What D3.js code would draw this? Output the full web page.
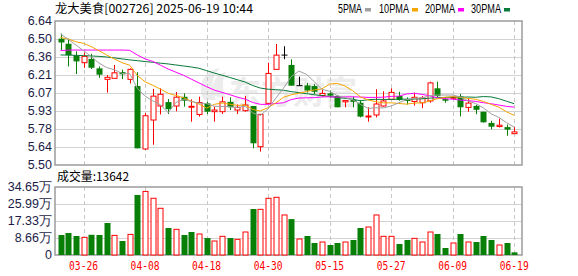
<!DOCTYPE html>
<html><head><meta charset="utf-8">
<script src="https://cdn.jsdelivr.net/npm/d3@7"></script>
<style>html,body{margin:0;padding:0;background:#fff;}svg{display:block;}</style>
</head><body>
<svg id="chart" width="578" height="276"></svg>
<script>
const dates = ["03-21","03-24","03-25","03-26","03-27","03-28","03-31","04-01","04-02","04-03",
"04-07","04-08","04-09","04-10","04-11","04-14","04-15","04-16","04-17","04-18",
"04-21","04-22","04-23","04-24","04-25","04-28","04-29","04-30","05-06","05-07",
"05-08","05-09","05-12","05-13","05-14","05-15","05-16","05-19","05-20","05-21",
"05-22","05-23","05-26","05-27","05-28","05-29","05-30","06-03","06-04","06-05",
"06-06","06-09","06-10","06-11","06-12","06-13","06-16","06-17","06-18","06-19"];
const open = [6.50,6.46,6.37,6.31,6.34,6.265,6.178,6.186,6.235,6.178,
6.125,5.627,5.856,5.967,5.998,5.967,6.04,5.96,5.90,5.988,
5.922,5.922,6.0,5.935,5.93,5.967,5.645,5.988,6.257,6.37,
6.292,6.128,6.13,6.125,6.05,6.067,6.046,6.0,6.014,5.993,
5.88,5.896,5.967,6.02,6.046,6.02,6.003,5.993,6.007,6.107,
6.022,6.03,6.043,5.956,5.968,5.922,5.833,5.805,5.80,5.748];
const high = [6.54,6.50,6.40,6.39,6.38,6.28,6.212,6.292,6.255,6.265,
6.235,5.912,6.102,6.107,6.022,6.078,6.067,6.02,6.041,6.0,
5.962,6.041,6.036,5.98,6.046,5.967,5.901,6.31,6.458,6.44,
6.337,6.199,6.15,6.14,6.094,6.09,6.054,6.012,6.04,6.014,
5.957,6.10,6.084,6.107,6.08,6.035,6.072,6.046,6.16,6.16,
6.038,6.045,6.062,6.028,5.975,5.922,5.85,5.868,5.82,5.8];
const low = [6.41,6.28,6.22,6.27,6.26,6.19,6.073,6.186,6.18,6.146,
5.632,5.619,5.66,5.90,5.904,5.925,5.962,5.843,5.883,5.903,
5.843,5.904,5.935,5.904,5.922,5.632,5.606,5.985,6.255,6.337,
6.128,6.128,6.073,6.062,6.04,6.033,5.957,5.957,5.957,5.877,
5.843,5.877,5.962,6.014,6.009,5.978,5.97,5.95,5.993,6.036,
5.993,6.02,5.885,5.922,5.902,5.836,5.783,5.797,5.731,5.745];
const close = [6.47,6.37,6.32,6.36,6.27,6.215,6.194,6.23,6.218,6.257,
5.632,5.89,6.045,6.06,5.942,6.037,6.009,5.965,5.995,5.922,
5.935,6.0,5.957,5.957,5.975,5.672,5.901,6.225,6.37,6.37,
6.128,6.128,6.09,6.08,6.067,6.049,5.957,6.01,6.0,5.883,
5.888,5.983,6.007,6.075,6.014,6.007,6.036,6.03,6.15,6.045,
6.009,6.036,5.957,5.99,5.937,5.838,5.803,5.815,5.78,5.762];
const volume = [10.19,11.2,9.68,9.0,10.3,10.2,16.3,10.0,7.13,10.5,
30.6,32.4,28.9,23.8,13.76,13.08,10.19,11.72,10.7,8.66,
7.13,9.51,8.66,7.98,11.72,23.44,23.27,28.9,29.4,20.4,
18.3,8.15,9.68,6.12,6.62,5.1,6.12,6.62,7.64,13.76,
14.27,20.4,9.51,9.51,5.6,7.64,8.49,6.62,11.72,10.7,
3.57,6.12,10.7,6.62,6.62,9.68,7.64,5.1,6.12,1.3642];
const volUp = [0,0,0,1,0,0,0,1,0,1, 0,1,1,1,0,1,0,0,1,0,
1,1,0,1,1,0,1,1,1,1, 0,1,0,0,1,0,0,1,0,0,
1,1,1,1,0,0,1,1,1,0, 0,1,0,1,0,0,0,1,0,0];
const ma5 = [6.537,6.495,6.45,6.405,6.358,6.307,6.272,6.254,6.225,6.223,
6.106,6.045,6.008,5.977,5.914,5.995,6.019,6.003,5.990,5.986,
5.965,5.963,5.962,5.954,5.965,5.912,5.892,5.946,6.029,6.108,
6.199,6.244,6.217,6.159,6.099,6.083,6.049,6.033,6.017,5.980,
5.948,5.953,5.952,5.967,5.993,6.017,6.028,6.032,6.047,6.054,
6.054,6.054,6.039,6.007,5.986,5.952,5.905,5.877,5.835,5.800];
const ma10 = [6.51,6.497,6.476,6.463,6.437,6.405,6.371,6.339,6.31,6.290,
6.207,6.159,6.131,6.101,6.068,6.051,6.032,6.006,5.983,5.950,
5.980,5.991,5.982,5.972,5.975,5.939,5.928,5.954,5.991,6.036,
6.056,6.068,6.082,6.094,6.103,6.141,6.146,6.125,6.088,6.039,
6.015,6.001,5.992,5.992,5.987,5.982,5.990,5.992,6.007,6.024,
6.036,6.041,6.036,6.027,6.020,6.003,5.980,5.958,5.921,5.893];
const ma20 = [6.405,6.41,6.41,6.41,6.41,6.41,6.41,6.41,6.41,6.408,
6.37,6.34,6.32,6.29,6.26,6.235,6.21,6.18,6.15,6.120,
6.093,6.075,6.057,6.037,6.022,5.995,5.980,5.980,5.987,5.993,
6.018,6.030,6.032,6.033,6.039,6.040,6.037,6.039,6.040,6.038,
6.035,6.035,6.037,6.043,6.045,6.062,6.068,6.059,6.048,6.031,
6.025,6.021,6.014,6.010,6.003,5.993,5.985,5.975,5.964,5.958];
const ma30 = [6.371,6.370,6.368,6.366,6.363,6.360,6.355,6.348,6.340,6.332,
6.326,6.319,6.313,6.306,6.300,6.292,6.284,6.276,6.266,6.247,
6.228,6.211,6.193,6.175,6.157,6.129,6.109,6.100,6.096,6.092,
6.081,6.073,6.065,6.056,6.049,6.043,6.035,6.028,6.021,6.008,
6.017,6.020,6.019,6.019,6.022,6.021,6.022,6.024,6.029,6.033,
6.035,6.037,6.037,6.038,6.036,6.042,6.039,6.025,6.005,5.985];
const priceTickLabels = ["5.50","5.64","5.78","5.93","6.07","6.21","6.36","6.50","6.64"];
const volTickLabels = ["0","8.66万","17.33万","25.99万","34.65万"];
const dateTicks = ["03-26","04-08","04-18","04-30","05-15","05-27","06-09","06-19"];
const maNames = ["5PMA","10PMA","20PMA","30PMA"];
const titleText = "龙大美食[002726] 2025-06-19 10:44";
const volTitle = "成交量:13642";

// ---------- layout ----------
const L = 55, R = 522, PT = 21, PB = 165, VT = 187, VB = 255;
const maColors = ["#a0a0a0","#f5a500","#ff00ff","#087a3a"];
const UP = "#ff0000", DOWN = "#088008";
const svg = d3.select("#chart");
svg.append("rect").attr("width",578).attr("height",276).attr("fill","#fff");

const x = d3.scalePoint().domain(dates).range([60.5, 514.2]);
const y = d3.scaleLinear().domain([5.50, 6.64]).range([PB, PT]);
const yv = d3.scaleLinear().domain([0, 34.65]).range([VB, VT]);
const priceTickVals = priceTickLabels.map((s,i)=>5.50 + i*(6.64-5.50)/(priceTickLabels.length-1));
const volTickVals = volTickLabels.map((s,i)=>i*34.65/(volTickLabels.length-1));

const numFont = "'Liberation Sans', Arial, sans-serif";
const cjkFont = "'Noto Sans CJK SC', sans-serif";

// watermark
const wm = svg.append("g").attr("opacity",1);
wm.append("text").attr("x",229).attr("y",104).attr("font-family",cjkFont).attr("font-weight","bold")
  .attr("font-size",32).attr("fill","#ececec").attr("textLength",128).attr("lengthAdjust","spacingAndGlyphs").text("东方财富");
wm.append("path").attr("d","M204,100 C196,86 204,70 220,68 C212,76 210,88 216,100 Z M214,96 C210,84 216,74 226,72 C222,80 222,90 226,98 Z")
  .attr("fill","#ececec");

// grid lines
const grid = svg.append("g");
grid.selectAll(".hg").data(priceTickVals.slice(1,-1)).join("line")
  .attr("x1",L).attr("x2",R).attr("y1",d=>Math.round(y(d))+0.5).attr("y2",d=>Math.round(y(d))+0.5)
  .attr("stroke","#d2d2d2").attr("stroke-width",1);
grid.selectAll(".vhg").data(volTickVals.slice(1,-1)).join("line")
  .attr("x1",L).attr("x2",R).attr("y1",d=>Math.round(yv(d))+0.5).attr("y2",d=>Math.round(yv(d))+0.5)
  .attr("stroke","#d2d2d2").attr("stroke-width",1);
[[PT,PB],[VT,VB]].forEach(([t,b])=>{
  grid.selectAll(null).data(dateTicks).join("line")
    .attr("x1",d=>Math.round(x(d))+0.5).attr("x2",d=>Math.round(x(d))+0.5)
    .attr("y1",t).attr("y2",b).attr("stroke","#c8c8c8").attr("stroke-width",1).attr("stroke-dasharray","4,3");
});

// panel frames
[[PT,PB],[VT,VB]].forEach(([t,b])=>{
  svg.append("rect").attr("x",L).attr("y",t).attr("width",R-L).attr("height",b-t)
    .attr("fill","none").attr("stroke","#9c9c9c").attr("stroke-width",1.5);
});

// candles
const bw = 5;
const data = dates.map((d,i)=>({d,o:open[i],h:high[i],l:low[i],c:close[i],v:volume[i],vu:volUp[i]}));
const cg = svg.append("g");
data.forEach(p=>{
  const cx = Math.round(x(p.d)) + 0.5;
  const col = p.c > p.o ? UP : (p.c < p.o ? DOWN : "#000");
  const top = y(Math.max(p.o,p.c)), bot = y(Math.min(p.o,p.c));
  if (p.c > p.o) {
    cg.append("line").attr("x1",cx).attr("x2",cx).attr("y1",y(p.h)).attr("y2",top).attr("stroke",col);
    cg.append("line").attr("x1",cx).attr("x2",cx).attr("y1",bot).attr("y2",y(p.l)).attr("stroke",col);
    cg.append("rect").attr("x",cx-bw/2).attr("y",top).attr("width",bw).attr("height",Math.max(1,bot-top))
      .attr("fill","#fff").attr("stroke",col).attr("stroke-width",1);
  } else if (p.c < p.o) {
    cg.append("line").attr("x1",cx).attr("x2",cx).attr("y1",y(p.h)).attr("y2",y(p.l)).attr("stroke",col);
    cg.append("rect").attr("x",cx-bw/2-0.5).attr("y",top).attr("width",bw+1).attr("height",Math.max(1,bot-top))
      .attr("fill",col);
  } else {
    cg.append("line").attr("x1",cx).attr("x2",cx).attr("y1",y(p.h)).attr("y2",y(p.l)).attr("stroke",col);
    cg.append("line").attr("x1",cx-3).attr("x2",cx+3).attr("y1",top).attr("y2",top).attr("stroke",col);
  }
});

// MA lines
const mas = [ma5, ma10, ma20, ma30];
const lineGen = d3.line().x((v,i)=>x(dates[i])).y(v=>y(v));
mas.slice().reverse().forEach((arr,k)=>{
  const idx = mas.length-1-k;
  svg.append("path").datum(arr).attr("d",lineGen).attr("fill","none")
    .attr("stroke",maColors[idx]).attr("stroke-width",1);
});

// volume bars
const vg = svg.append("g");
data.forEach(p=>{
  const cx = Math.round(x(p.d)) + 0.5;
  const t = yv(p.v);
  if (p.vu) {
    vg.append("rect").attr("x",cx-bw/2).attr("y",t).attr("width",bw).attr("height",VB-t)
      .attr("fill","#fff").attr("stroke",UP).attr("stroke-width",1);
  } else {
    vg.append("rect").attr("x",cx-bw/2-0.5).attr("y",t).attr("width",bw+1).attr("height",VB-t).attr("fill",DOWN);
  }
});

// axis labels
svg.selectAll(".pl").data(priceTickVals).join("text")
  .attr("x",52).attr("y",d=>y(d)).attr("dy","0.35em").attr("text-anchor","end")
  .attr("font-family",numFont).attr("font-size",12.5).attr("fill","#1c1c48")
  .text((d,i)=>priceTickLabels[i]);
svg.selectAll(".vl").data(volTickVals).join("text")
  .attr("x",52).attr("y",d=>yv(d)).attr("dy","0.35em").attr("text-anchor","end")
  .attr("font-family",numFont).attr("font-size",12.5).attr("fill","#1c1c48")
  .text((d,i)=>volTickLabels[i]);
svg.selectAll(".xl").data(dateTicks).join("text")
  .attr("x",d=>x(d)).attr("y",270).attr("text-anchor","middle")
  .attr("font-family","'DejaVu Sans Mono', monospace").attr("font-size",11.5).attr("fill","#ff0000")
  .attr("textLength",29).attr("lengthAdjust","spacingAndGlyphs").text(d=>d);

// title
svg.append("text").attr("x",55).attr("y",13).attr("font-family",cjkFont).attr("font-size",12)
  .attr("fill","#000").attr("textLength",198).attr("lengthAdjust","spacingAndGlyphs").text(titleText);
svg.append("text").attr("x",57).attr("y",181).attr("font-family",cjkFont).attr("font-size",12)
  .attr("fill","#000").attr("textLength",72).attr("lengthAdjust","spacingAndGlyphs").text(volTitle);

// legend
const legX = [338, 379, 425, 471];
const legW = [24, 30, 30, 30];
maNames.forEach((n,i)=>{
  svg.append("text").attr("x",legX[i]).attr("y",13).attr("font-family",numFont).attr("font-size",12)
    .attr("fill","#000").attr("textLength",legW[i]).attr("lengthAdjust","spacingAndGlyphs").text(n);
  svg.append("rect").attr("x",legX[i]+legW[i]+3).attr("y",8).attr("width",6).attr("height",3.5).attr("fill",maColors[i]);
});
</script>
</body></html>
